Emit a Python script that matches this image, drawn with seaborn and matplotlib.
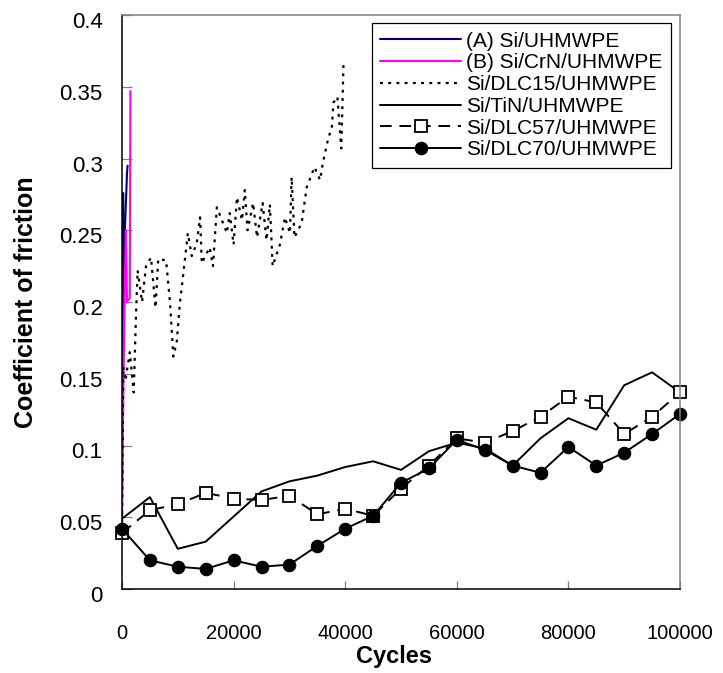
import matplotlib
matplotlib.use("Agg")
import matplotlib.pyplot as plt
from matplotlib.transforms import ScaledTranslation
import seaborn as sns

# --- data -------------------------------------------------------------
cycles_a = [0, 200, 300, 400, 900, 1000]
cof_a = [0.05, 0.276, 0.20, 0.238, 0.29, 0.295]

cycles_b = [0, 300, 500, 700, 900, 1400, 1500]
cof_b = [0.057, 0.153, 0.21, 0.25, 0.20, 0.203, 0.347]

cycles_dlc15 = [0, 200, 600, 1400, 2100, 2500, 2800, 3600, 4300, 5200, 6000,
                6500, 7900, 8600, 9200, 9800, 10400, 11000, 11800, 12500,
                13400, 14000, 14300, 15700, 16300, 17000, 17900, 18800,
                19300, 20000, 20600, 21500, 22000, 22500, 23500, 24200,
                25200, 25900, 26500, 27000, 28300, 29200, 30100, 30400,
                30900, 32200, 32700, 33100, 34500, 35500, 36000, 36900,
                37600, 37900, 38600, 39300, 39700]
cof_dlc15 = [0.035, 0.155, 0.145, 0.165, 0.137, 0.19, 0.222, 0.20, 0.225,
             0.231, 0.196, 0.23, 0.229, 0.20, 0.162, 0.172, 0.20, 0.22,
             0.248, 0.232, 0.241, 0.259, 0.227, 0.238, 0.225, 0.266, 0.257,
             0.248, 0.262, 0.24, 0.273, 0.257, 0.278, 0.25, 0.269, 0.245,
             0.269, 0.243, 0.268, 0.225, 0.24, 0.259, 0.248, 0.287, 0.245,
             0.255, 0.269, 0.28, 0.294, 0.285, 0.297, 0.313, 0.322, 0.339,
             0.343, 0.307, 0.367]

cycles_tin = [0, 5000, 10000, 15000, 25000, 30000, 35000, 40000, 45000,
              50000, 55000, 60000, 65000, 70000, 75000, 80000, 85000, 90000,
              95000, 100000]
cof_tin = [0.049, 0.064, 0.028, 0.033, 0.068, 0.075, 0.079, 0.085, 0.089,
           0.083, 0.096, 0.102, 0.098, 0.086, 0.105, 0.119, 0.111, 0.142,
           0.151, 0.137]

cycles_step = [0, 5000, 10000, 15000, 20000, 25000, 30000, 35000, 40000,
               45000, 50000, 55000, 60000, 65000, 70000, 75000, 80000, 85000,
               90000, 95000, 100000]
cof_dlc57 = [0.039, 0.055, 0.059, 0.067, 0.063, 0.062, 0.065, 0.052, 0.056,
             0.051, 0.070, 0.086, 0.105, 0.102, 0.110, 0.120, 0.134, 0.130,
             0.108, 0.120, 0.137]
cof_dlc70 = [0.042, 0.020, 0.0155, 0.014, 0.020, 0.0155, 0.017, 0.030, 0.042,
             0.051, 0.074, 0.084, 0.104, 0.097, 0.086, 0.081, 0.099, 0.086,
             0.095, 0.108, 0.122]

labels = ["(A) Si/UHMWPE", "(B) Si/CrN/UHMWPE", "Si/DLC15/UHMWPE",
          "Si/TiN/UHMWPE", "Si/DLC57/UHMWPE", "Si/DLC70/UHMWPE"]

x_ticks = [0, 20000, 40000, 60000, 80000, 100000]
y_ticks = [0, 0.05, 0.1, 0.15, 0.2, 0.25, 0.3, 0.35, 0.4]
y_tick_labels = ["0", "0.05", "0.1", "0.15", "0.2", "0.25", "0.3", "0.35", "0.4"]

# --- style ------------------------------------------------------------
sns.set_theme(style="white")
plt.rcParams["font.family"] = ["Liberation Sans", "DejaVu Sans"]
plt.rcParams["text.color"] = "black"
plt.rcParams["axes.labelcolor"] = "black"
plt.rcParams["xtick.color"] = "black"
plt.rcParams["ytick.color"] = "black"

fig = plt.figure(figsize=(7.23, 6.73), dpi=100)
ax = fig.add_axes([122 / 723, 1 - 589 / 673, 558 / 723, 574 / 673])

common = dict(ax=ax, sort=False, estimator=None)

sns.lineplot(x=cycles_a, y=cof_a, color="#000080", lw=1.5, label=labels[0], **common)
sns.lineplot(x=cycles_b, y=cof_b, color="#FF00FF", lw=1.5, label=labels[1], **common)
sns.lineplot(x=cycles_dlc15, y=cof_dlc15, color="black", lw=1.6,
             linestyle=(0, (1.3, 2.4)), label=labels[2], **common)
sns.lineplot(x=cycles_tin, y=cof_tin, color="black", lw=1.4, label=labels[3], **common)
sns.lineplot(x=cycles_step, y=cof_dlc57, color="black", lw=1.4,
             linestyle=(0, (6, 4)), marker="s", markersize=8,
             markerfacecolor="white", markeredgecolor="black",
             markeredgewidth=1.3, label=labels[4], clip_on=False, **common)
sns.lineplot(x=cycles_step, y=cof_dlc70, color="black", lw=1.4,
             marker="o", markersize=9, markerfacecolor="black",
             markeredgecolor="black", label=labels[5], clip_on=False, **common)

# --- axes -------------------------------------------------------------
ax.set_xlim(0, 100000)
ax.set_ylim(0, 0.4)
ax.set_xticks(x_ticks)
ax.set_xticklabels([str(v) for v in x_ticks])
ax.set_yticks(y_ticks)
ax.set_yticklabels(y_tick_labels)

for side in ("left", "bottom"):
    ax.spines[side].set_color("black")
    ax.spines[side].set_linewidth(1.1)
for side in ("top", "right"):
    ax.spines[side].set_color("#808080")
    ax.spines[side].set_linewidth(1.1)

ax.tick_params(axis="y", left=True, direction="in", length=7, width=0.9,
               color="#808080", labelsize=16, labelcolor="black", pad=14)
ax.tick_params(axis="x", bottom=True, direction="in", length=6, width=0.9,
               color="#808080", labelsize=14.5, labelcolor="black", pad=25)

shift = ScaledTranslation(0, -5 / 100, fig.dpi_scale_trans)
for lab in ax.get_yticklabels():
    lab.set_transform(lab.get_transform() + shift)

ax.set_xlabel("Cycles", fontsize=17, fontweight="bold", va="baseline", color="black")
ax.xaxis.set_label_coords((394 - 122) / 558, (589 - 663) / 574)
ax.set_ylabel("Coefficient of friction", fontsize=18, fontweight="bold",
              va="center", color="black")
ax.yaxis.set_label_coords((26 - 122) / 558, 0.5)

leg = ax.legend(loc="upper right", bbox_to_anchor=(671 / 723, 1 - 23 / 673),
                bbox_transform=fig.transFigure, borderaxespad=0, fontsize=15,
                handlelength=3.85, handletextpad=0.25, labelspacing=0.13,
                borderpad=0.42, frameon=True, fancybox=False, framealpha=1)
leg.get_frame().set_edgecolor("black")
leg.get_frame().set_linewidth(0.9)
for t in leg.get_texts():
    t.set_color("black")

fig.savefig("out.png", dpi=100)
